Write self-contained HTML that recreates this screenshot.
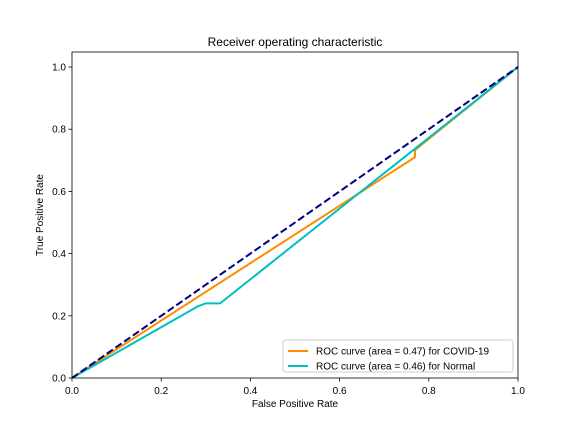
<!DOCTYPE html>
<html><head><meta charset="utf-8"><style>
body{margin:0;background:#fff}
svg{font-family:"Liberation Sans","DejaVu Sans",sans-serif}
</style></head><body>
<svg id="chart" width="576" height="432" xmlns="http://www.w3.org/2000/svg"></svg>
<script>
const xTicks=[0,0.2,0.4,0.6,0.8,1.0];
const yTicks=[0,0.2,0.4,0.6,0.8,1.0];
const covidFpr=[0,0.769,0.769,1];
const covidTpr=[0,0.71,0.733,1];
const normalFpr=[0,0.283,0.30,0.332,1];
const normalTpr=[0,0.231,0.24,0.24,1];
const diagX=[0,1];
const diagY=[0,1];
const seriesNames=["ROC curve (area = 0.47) for COVID-19","ROC curve (area = 0.46) for Normal"];

const svg=document.getElementById('chart');
const NS='http://www.w3.org/2000/svg';
const L=72,R=518,T=52,B=378;
const sx=v=>L+v*(R-L);
const sy=v=>B-v*(B-67);
function mk(tag,attrs,parent){const e=document.createElementNS(NS,tag);for(const k in attrs)e.setAttribute(k,attrs[k]);(parent||svg).appendChild(e);return e;}
function txt(s,attrs){const e=mk('text',attrs);e.textContent=s;return e;}

const frame=mk('rect',{x:L,y:T,width:R-L,height:B-T,fill:'#fff',stroke:'none'});



xTicks.forEach(v=>{
  const l=mk('line',{x1:sx(v),x2:sx(v),y1:B,y2:B+3.5,stroke:'#000','stroke-width':0.8});
  
  
  const t=txt(v.toFixed(1),{x:sx(v),y:B+16,'text-anchor':'middle','font-size':10});
  
  
});
yTicks.forEach(v=>{
  const l=mk('line',{x1:L-3.5,x2:L,y1:sy(v),y2:sy(v),stroke:'#000','stroke-width':0.8});
  
  
  const t=txt(v.toFixed(1),{x:L-6,y:sy(v)+3.5,'text-anchor':'end','font-size':10});
  
  
});

const clip=mk('clipPath',{id:'c'});mk('rect',{x:L,y:T,width:R-L,height:B-T},clip);
function line(xs,ys,color,name,dash){
  const p=mk('polyline',{points:xs.map((x,i)=>sx(x)+','+sy(ys[i])).join(' '),fill:'none',stroke:color,'stroke-width':2,'clip-path':'url(#c)'});
  if(dash)p.setAttribute('stroke-dasharray',dash);
  
  
}
line(covidFpr,covidTpr,'#ff8c00','covid-roc-line');
line(normalFpr,normalTpr,'#00bfbf','normal-roc-line');
line(diagX,diagY,'#000080','chance-diagonal','7.4,3.2');

const ax=mk('rect',{x:L,y:T,width:R-L,height:B-T,fill:'none',stroke:'#000','stroke-width':0.8});



const title=txt('Receiver operating characteristic',{x:(L+R)/2,y:46,'text-anchor':'middle','font-size':12});


const xl=txt('False Positive Rate',{x:(L+R)/2,y:407,'text-anchor':'middle','font-size':10});


const yl=txt('True Positive Rate',{x:0,y:0,'text-anchor':'middle','font-size':10,transform:'translate(43,'+(T+B)/2+') rotate(-90)'});



const lg=mk('g',{});


mk('rect',{x:283,y:340,width:230,height:32,rx:3,fill:'#fff',stroke:'#ccc','stroke-width':1},lg);
const colors=['#ff8c00','#00bfbf'];
seriesNames.forEach((n,i)=>{
  const y=351+i*15;
  const g=mk('g',{},lg);
  
  
  mk('line',{x1:288,x2:308,y1:y,y2:y,stroke:colors[i],'stroke-width':2},g);
  const t=mk('text',{x:316,y:y+3.5,'font-size':10},g);t.textContent=n;
});
</script>
</body></html>
